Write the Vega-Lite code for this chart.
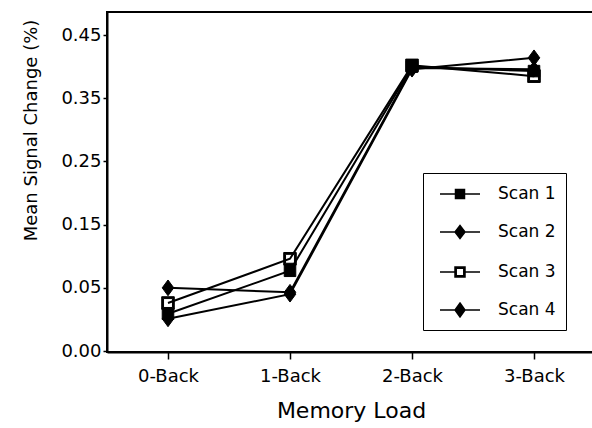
{
  "$schema": "https://vega.github.io/schema/vega-lite/v6.json",
  "autosize": {"type": "none"},
  "padding": {"left": 107, "top": 12, "right": 0, "bottom": 76},
  "width": 488,
  "height": 340,
  "config": {
    "font": "DejaVu Sans",
    "view": {"stroke": "black", "strokeWidth": 2},
    "axis": {"domainColor": "black", "domainWidth": 2, "tickColor": "black", "tickWidth": 1.5, "labelColor": "black", "titleColor": "black", "grid": false, "labelFontWeight": "normal", "titleFontWeight": "normal"}
  },
  "data": {
    "values": [
      {"load": "0-Back", "scan": "Scan 1", "value": 0.009},
      {"load": "1-Back", "scan": "Scan 1", "value": 0.077},
      {"load": "2-Back", "scan": "Scan 1", "value": 0.400},
      {"load": "3-Back", "scan": "Scan 1", "value": 0.393},
      {"load": "0-Back", "scan": "Scan 2", "value": 0.050},
      {"load": "1-Back", "scan": "Scan 2", "value": 0.043},
      {"load": "2-Back", "scan": "Scan 2", "value": 0.398},
      {"load": "3-Back", "scan": "Scan 2", "value": 0.396},
      {"load": "0-Back", "scan": "Scan 3", "value": 0.026},
      {"load": "1-Back", "scan": "Scan 3", "value": 0.096},
      {"load": "2-Back", "scan": "Scan 3", "value": 0.402},
      {"load": "3-Back", "scan": "Scan 3", "value": 0.385},
      {"load": "0-Back", "scan": "Scan 4", "value": 0.001},
      {"load": "1-Back", "scan": "Scan 4", "value": 0.040},
      {"load": "2-Back", "scan": "Scan 4", "value": 0.396},
      {"load": "3-Back", "scan": "Scan 4", "value": 0.414}
    ]
  },
  "encoding": {
    "x": {
      "field": "load", "type": "ordinal",
      "scale": {"type": "point", "padding": 0.5},
      "axis": {"title": "Memory Load", "labelAngle": 0, "labelFontSize": 18, "titleFontSize": 22, "tickSize": 7, "labelPadding": 8, "titleY": 58, "titleBaseline": "middle"}
    },
    "y": {
      "field": "value", "type": "quantitative",
      "scale": {"domain": [-0.0515, 0.4865], "nice": false, "zero": false},
      "axis": {
        "title": "Mean Signal Change (%)",
        "values": [-0.05, 0.05, 0.15, 0.25, 0.35, 0.45],
        "labelExpr": "datum.value < 0 ? '0.00' : format(datum.value, '.2f')",
        "labelFontSize": 18, "titleFontSize": 18, "tickSize": 4, "labelPadding": 2,
        "titleX": -76, "titleY": 118, "titleAngle": -90, "titleAlign": "center", "titleBaseline": "middle"
      }
    }
  },
  "layer": [
    {
      "mark": {"type": "line", "color": "black", "strokeWidth": 2},
      "encoding": {"detail": {"field": "scan"}}
    },
    {
      "mark": {"type": "point", "filled": true, "color": "black", "stroke": "black", "opacity": 1, "size": 110, "strokeWidth": 1},
      "encoding": {
        "shape": {
          "field": "scan", "type": "nominal",
          "scale": {
            "domain": ["Scan 1", "Scan 2", "Scan 3", "Scan 4"],
            "range": [
              "M-1.1,-1.1H1.1V1.1H-1.1Z",
              "M0,-1.5L1.1,0L0,1.5L-1.1,0Z",
              "M-1.2,-1.2H1.2V1.2H-1.2ZM-0.85,-0.85V0.85H0.85V-0.85Z",
              "M0,-1.5L1.1,0L0,1.5L-1.1,0Z"
            ]
          },
          "legend": null
        }
      }
    },
    {
      "transform": [{"filter": "datum.scan == 'none'"}],
      "mark": {"type": "point", "filled": true, "color": "black", "stroke": "black", "opacity": 1, "strokeWidth": 1.5},
      "encoding": {
        "shape": {
          "field": "scan", "type": "nominal",
          "scale": {
            "domain": ["Scan 1", "Scan 2", "Scan 3", "Scan 4"],
            "range": [
              "M-2,0H2M-0.45,-0.45H0.45V0.45H-0.45Z",
              "M-2,0H2M0,-0.65L0.5,0L0,0.65L-0.5,0Z",
              "M-2,0H-0.5M0.5,0H2M-0.5,-0.5H0.5V0.5H-0.5ZM-0.38,-0.38V0.38H0.38V-0.38Z",
              "M-2,0H2M0,-0.7L0.5,0L0,0.7L-0.5,0Z"
            ]
          },
          "legend": {
            "title": null,
            "orient": "none",
            "legendX": 316,
            "legendY": 161,
            "strokeColor": "black",
            "fillColor": "white",
            "padding": 10,
            "rowPadding": 19,
            "symbolSize": 400,
            "symbolOffset": 16,
            "labelFontSize": 17,
            "labelColor": "black",
            "labelOffset": 27,
            "encode": {
              "symbols": {
                "update": {
                  "stroke": {"value": "black"},
                  "fill": {"value": "black"},
                  "strokeWidth": {"value": 1.5},
                  "opacity": {"value": 1}
                }
              }
            }
          }
        }
      }
    }
  ],
  "resolve": {"scale": {"shape": "independent"}, "legend": {"shape": "independent"}}
}
